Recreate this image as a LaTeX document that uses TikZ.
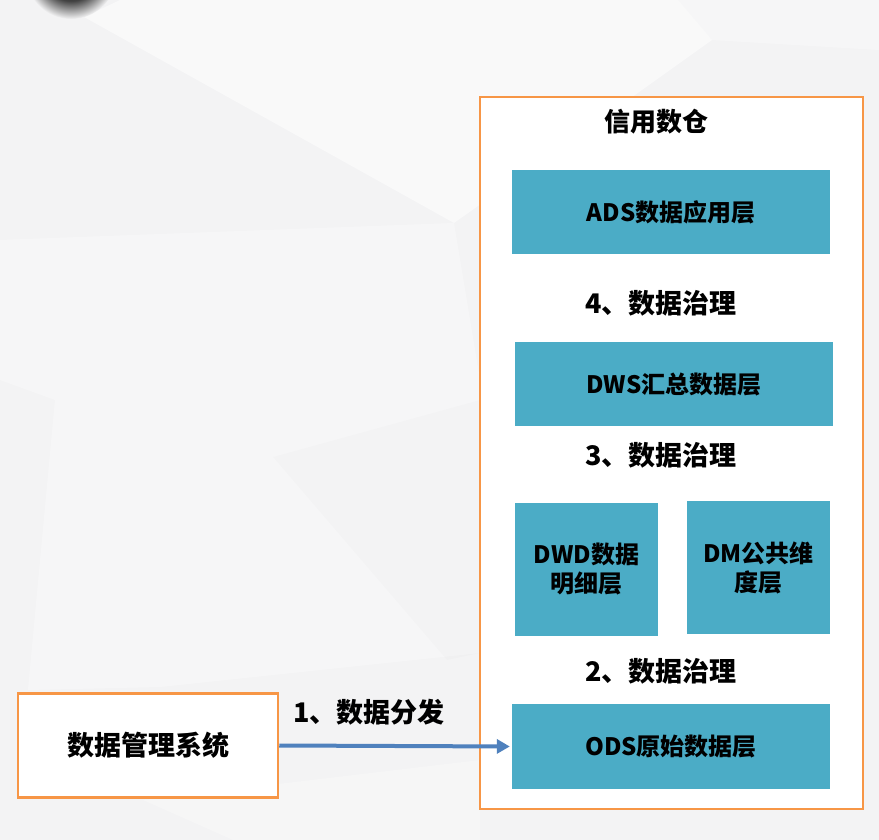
\documentclass[tikz,border=0pt]{standalone}
\usepackage{fontspec}
\setmainfont{Noto Sans CJK SC}
\usetikzlibrary{arrows.meta}
\definecolor{bgbase}{HTML}{F3F3F4}
\definecolor{teal}{HTML}{4BACC6}
\definecolor{orangeline}{HTML}{F79646}
\definecolor{arrowblue}{HTML}{4F81BD}
\pgfdeclareradialshading{blob}{\pgfpoint{0bp}{0bp}}{color(0bp)=(black!82); color(15bp)=(black!75); color(25bp)=(bgbase); color(50bp)=(bgbase)}
\tikzset{
  layer/.style={fill=teal, draw=none, inner sep=0pt, text=black, font=\fontsize{24}{29}\selectfont\bfseries, align=center},
  framebox/.style={draw=orangeline, fill=white, line width=2pt, inner sep=0pt},
  govlabel/.style={font=\fontsize{27}{30}\selectfont\bfseries, text=black, inner sep=0pt},
  flow/.style={draw=arrowblue, line width=4pt, -{Triangle[length=13pt,width=14pt]}}
}
\begin{document}
\begin{tikzpicture}[x=1pt,y=-1pt]
\useasboundingbox (0,0) rectangle (879,840);
% background
\fill[bgbase] (0,0) rectangle (879,840);
\fill[white,opacity=0.5] (120,0) -- (678,0) -- (712,40) -- (600,120) -- (454,223) -- (84,17) -- cycle;
\fill[white,opacity=0.3] (0,240) -- (454,223) -- (480,380) -- (480,653) -- (160,687) -- (28,690) -- (55,400) -- (0,380) -- cycle;
\fill[white,opacity=0.3] (712,40) -- (879,50) -- (879,0) -- (678,0) -- cycle;
\fill[white,opacity=0.25] (143,800) -- (480,760) -- (480,840) -- (233,840) -- cycle;
\fill[black,opacity=0.012] (273,457) -- (447,660) -- (480,653) -- (480,400) -- cycle;
\shade[shading=blob] (71,-27) circle (46);
% outer frame
\node[framebox, minimum width=383pt, minimum height=711pt] (dw) at (671.5,453) {};
\node[govlabel, font=\fontsize{26}{30}\selectfont\bfseries] (title) at (656,122) {信用数仓};
\node[layer, minimum width=318pt, minimum height=84pt] (ads) at (671,212) {ADS数据应用层};
\node[govlabel] (g4) at (661,303) {4、数据治理};
\node[layer, minimum width=318pt, minimum height=84pt] (dws) at (674,384) {DWS汇总数据层};
\node[govlabel] (g3) at (661,455) {3、数据治理};
\node[layer, minimum width=143pt, minimum height=133pt] (dwd) at (586.5,569.5) {DWD数据\\明细层};
\node[layer, minimum width=143pt, minimum height=133pt] (dm) at (758.5,567.5) {DM公共维\\度层};
\node[govlabel] (g2) at (661,671) {2、数据治理};
\node[layer, minimum width=318pt, minimum height=85pt] (ods) at (671,746.5) {ODS原始数据层};
% left system
\node[framebox, line width=2.5pt, minimum width=260pt, minimum height=104pt, font=\fontsize{27}{30}\selectfont\bfseries] (sys) at (148,745.5) {数据管理系统};
\node[govlabel] (g1) at (369,712) {1、数据分发};
\draw[flow, shorten >=2pt] (sys.east) -- (ods.west);
\end{tikzpicture}
\end{document}
